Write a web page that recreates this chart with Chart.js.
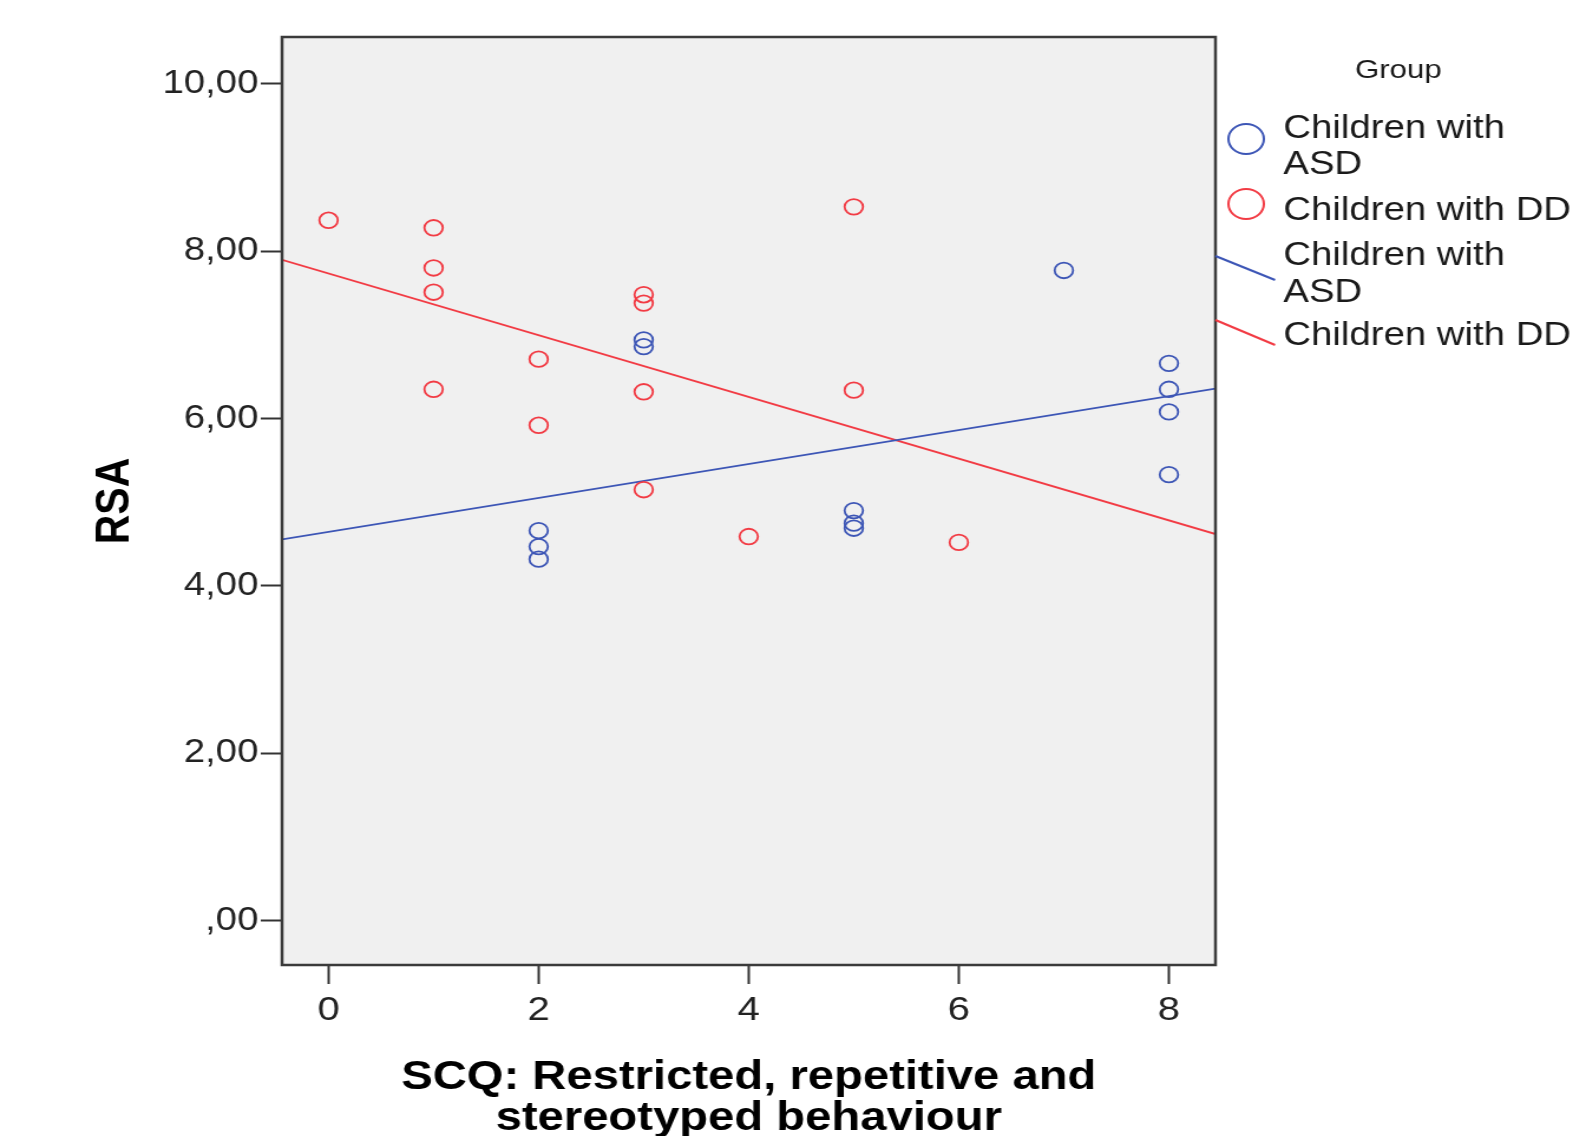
<!DOCTYPE html>
<html><head><meta charset="utf-8">
<script src="https://cdn.jsdelivr.net/npm/chart.js@4/dist/chart.umd.min.js"></script>
<style>
html,body{margin:0;padding:0;background:#fff;overflow:hidden;}
#wrap{position:absolute;left:0;top:0;width:1344px;height:1136px;transform:scaleX(1.18006);transform-origin:0 0;}
canvas{display:block;}
</style></head><body>
<div id="wrap"><canvas id="c" width="1344" height="1136"></canvas></div>
<script>
// ---- data ----
const asdX = [2, 2, 2, 3, 3, 5, 5, 5, 7, 8, 8, 8, 8];
const asdY = [4.66, 4.47, 4.32, 6.94, 6.86, 4.90, 4.75, 4.69, 7.77, 6.66, 6.35, 6.08, 5.33];
const ddX = [0, 1, 1, 1, 1, 2, 2, 3, 3, 3, 3, 4, 5, 5, 6];
const ddY = [8.37, 8.28, 7.80, 7.51, 6.35, 6.71, 5.92, 7.48, 7.38, 6.32, 5.15, 4.59, 8.53, 6.34, 4.52];
const xTicks = [0, 2, 4, 6, 8];
const yTicks = [0, 2, 4, 6, 8, 10];
const yTickLabels = [',00', '2,00', '4,00', '6,00', '8,00', '10,00'];
const seriesNames = ['Children with ASD', 'Children with DD'];
const legendTitle = 'Group';
const xTitle = ['SCQ: Restricted, repetitive and', 'stereotyped behaviour'];
const yTitle = 'RSA';
const xMin = -0.443, xMax = 8.443, yMin = -0.53, yMax = 10.56;

const FONT = '"Liberation Sans", Arial, sans-serif';
const BLUE = '#3d56b6';
const RED = '#f23b44';

function fit(xs, ys) {
  const n = xs.length;
  const mx = xs.reduce((a, b) => a + b, 0) / n;
  const my = ys.reduce((a, b) => a + b, 0) / n;
  let sxy = 0, sxx = 0;
  for (let i = 0; i < n; i++) { sxy += (xs[i] - mx) * (ys[i] - my); sxx += (xs[i] - mx) ** 2; }
  const b = sxy / sxx, a = my - b * mx;
  return [{x: xMin, y: a + b * xMin}, {x: xMax, y: a + b * xMax}];
}
const pts = (xs, ys) => xs.map((x, i) => ({x, y: ys[i]}));

const deco = {
  id: 'deco',
  beforeDraw(chart) {
    const {ctx, chartArea: a} = chart;
    ctx.save();
    ctx.fillStyle = '#f0f0f0';
    ctx.fillRect(a.left, a.top, a.right - a.left, a.bottom - a.top);
    ctx.restore();
  },
  afterDraw(chart) {
    const {ctx, chartArea: a} = chart;
    ctx.save();
    ctx.strokeStyle = '#3a3a3a';
    ctx.lineWidth = 2.5;
    ctx.strokeRect(a.left, a.top, a.right - a.left, a.bottom - a.top);

    // legend
    ctx.fillStyle = '#1a1a1a';
    ctx.font = '26.5px ' + FONT;
    ctx.textAlign = 'center';
    ctx.textBaseline = 'alphabetic';
    ctx.fillText(legendTitle, 1185, 78);

    ctx.textAlign = 'left';
    ctx.font = '32.5px ' + FONT;
    const tx = 1087.5;
    const wrap = s => s === seriesNames[0] ? ['Children with', 'ASD'] : [s];
    // marker items
    ctx.lineWidth = 2;
    ctx.strokeStyle = BLUE;
    ctx.beginPath(); ctx.arc(1056, 139, 15, 0, Math.PI * 2); ctx.stroke();
    ctx.strokeStyle = RED;
    ctx.beginPath(); ctx.arc(1056, 204, 15, 0, Math.PI * 2); ctx.stroke();
    let l = wrap(seriesNames[0]);
    ctx.fillText(l[0], tx, 138); ctx.fillText(l[1], tx, 174);
    ctx.fillText(wrap(seriesNames[1])[0], tx, 220);
    // line items
    ctx.strokeStyle = BLUE;
    ctx.beginPath(); ctx.moveTo(a.right, 256); ctx.lineTo(1080.5, 280); ctx.stroke();
    ctx.strokeStyle = RED;
    ctx.beginPath(); ctx.moveTo(a.right, 320); ctx.lineTo(1080.5, 345); ctx.stroke();
    ctx.fillText(l[0], tx, 265); ctx.fillText(l[1], tx, 302);
    ctx.fillText(wrap(seriesNames[1])[0], tx, 345);
    ctx.restore();
  }
};

new Chart(document.getElementById('c'), {
  type: 'scatter',
  data: {
    datasets: [
      {label: seriesNames[0] + ' fit', data: fit(asdX, asdY), showLine: true, pointRadius: 0, borderColor: BLUE, borderWidth: 1.8, order: 2},
      {label: seriesNames[1] + ' fit', data: fit(ddX, ddY), showLine: true, pointRadius: 0, borderColor: RED, borderWidth: 1.8, order: 2},
      {label: seriesNames[0], data: pts(asdX, asdY), pointStyle: 'circle', pointRadius: 7.8, pointBorderWidth: 1.8, borderColor: BLUE, backgroundColor: 'rgba(0,0,0,0)', order: 1},
      {label: seriesNames[1], data: pts(ddX, ddY), pointStyle: 'circle', pointRadius: 7.8, pointBorderWidth: 1.8, borderColor: RED, backgroundColor: 'rgba(0,0,0,0)', order: 1}
    ]
  },
  options: {
    responsive: false,
    animation: false,
    events: [],
    layout: {padding: {left: 0, top: 37, right: 314, bottom: 0}},
    plugins: {legend: {display: false}, tooltip: {enabled: false}},
    scales: {
      x: {
        type: 'linear', position: 'bottom', min: xMin, max: xMax,
        afterBuildTicks: s => { s.ticks = xTicks.map(v => ({value: v})); },
        afterFit: s => { s.height = 171; },
        ticks: {font: {size: 34, family: FONT}, color: '#222', padding: 6, maxRotation: 0, autoSkip: false,
                callback: v => String(v)},
        grid: {display: true, drawOnChartArea: false, drawTicks: true, tickLength: 19, tickWidth: 2, tickColor: '#333'},
        border: {display: false},
        title: {display: true, text: xTitle, color: '#000', font: {size: 40, weight: 'bold', family: FONT, lineHeight: 1.04},
                padding: {top: 0, bottom: -4}}
      },
      y: {
        type: 'linear', position: 'left', min: yMin, max: yMax,
        afterBuildTicks: s => { s.ticks = yTicks.map(v => ({value: v})); },
        afterFit: s => { s.width = 239; },
        ticks: {font: {size: 32.5, family: FONT}, color: '#222', padding: 2, autoSkip: false,
                callback: v => yTickLabels[yTicks.indexOf(v)]},
        grid: {display: true, drawOnChartArea: false, drawTicks: true, tickLength: 18, tickWidth: 2, tickColor: '#333'},
        border: {display: false},
        title: {display: true, text: yTitle, color: '#000', font: {size: 41, weight: 'bold', family: FONT, lineHeight: 1.2},
                padding: {top: 73.5, bottom: 0}}
      }
    }
  },
  plugins: [deco]
});
</script>
</body></html>
